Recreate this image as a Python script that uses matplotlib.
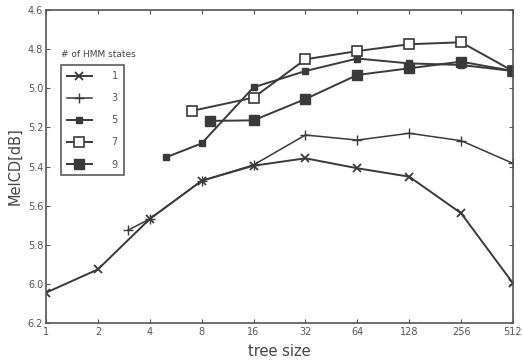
import matplotlib
matplotlib.use("Agg")
import matplotlib.pyplot as plt
from matplotlib.ticker import FixedLocator, FixedFormatter

x1 = [1, 2, 4, 8, 16, 32, 64, 128, 256, 512]
y1 = [6.045, 5.926, 5.668, 5.473, 5.396, 5.358, 5.409, 5.452, 5.639, 5.997]
x3 = [3, 4, 8, 16, 32, 64, 128, 256, 512]
y3 = [5.725, 5.668, 5.473, 5.392, 5.239, 5.265, 5.230, 5.268, 5.384]
x5 = [5, 8, 16, 32, 64, 128, 256, 512]
y5 = [5.352, 5.282, 4.995, 4.912, 4.848, 4.873, 4.881, 4.912]
x7 = [7, 16, 32, 64, 128, 256, 512]
y7 = [5.116, 5.048, 4.852, 4.810, 4.775, 4.765, 4.912]
x9 = [9, 16, 32, 64, 128, 256, 512]
y9 = [5.167, 5.164, 5.055, 4.932, 4.898, 4.864, 4.912]

xticks = [1, 2, 4, 8, 16, 32, 64, 128, 256, 512]
xticklabels = ["1", "2", "4", "8", "16", "32", "64", "128", "256", "512"]
yticks = [4.6, 4.8, 5.0, 5.2, 5.4, 5.6, 5.8, 6.0, 6.2]
yticklabels = ["4.6", "4.8", "5.0", "5.2", "5.4", "5.6", "5.8", "6.0", "6.2"]
labels = ["1", "3", "5", "7", "9"]

lc = "#3a3a3a"
gc = "#555555"

fig = plt.figure(figsize=(5.23, 3.63), dpi=100)
ax = fig.add_axes([46/523, 1-323/363, 467/523, 313/363])

ax.plot(x1, y1, color=lc, lw=1.4, marker='x', ms=6, mew=1.3, label=labels[0])
ax.plot(x3, y3, color=lc, lw=1.1, marker='+', ms=7, mew=1.0, label=labels[1])
ax.plot(x5, y5, color=lc, lw=1.4, marker='s', ms=4.5, mfc=lc, mec=lc, label=labels[2])
ax.plot(x7, y7, color=lc, lw=1.4, marker='s', ms=6.5, mfc='white', mec=lc, mew=1.2, label=labels[3])
ax.plot(x9, y9, color=lc, lw=1.4, marker='s', ms=7, mfc=lc, mec=lc, label=labels[4])

ax.set_xscale('log', base=2)
ax.set_xlim(1, 512)
ax.set_ylim(6.2, 4.6)
ax.xaxis.set_major_locator(FixedLocator(xticks))
ax.xaxis.set_major_formatter(FixedFormatter(xticklabels))
ax.xaxis.set_minor_locator(FixedLocator([]))
ax.yaxis.set_major_locator(FixedLocator(yticks))
ax.yaxis.set_major_formatter(FixedFormatter(yticklabels))
ax.tick_params(direction='in', top=True, right=True, length=3, width=0.8,
               colors=gc, labelsize=7, labelcolor='#555555')
ax.tick_params(axis='x', pad=3)
ax.tick_params(axis='y', pad=2)
for s in ax.spines.values():
    s.set_color(gc)
    s.set_linewidth(1.2)

ax.set_xlabel("tree size", fontsize=10.5, color='#444444', labelpad=5)
ax.set_ylabel("MelCD[dB]", fontsize=10.5, color='#444444', labelpad=4)

leg = ax.legend(loc='upper left', bbox_to_anchor=(0.032, 0.824), fontsize=7,
                frameon=True, fancybox=False, edgecolor='#333333',
                handlelength=2.6, handletextpad=2.0, labelspacing=1.25,
                borderpad=0.6, borderaxespad=0)
leg.get_frame().set_linewidth(1.2)
for t in leg.get_texts():
    t.set_color('#555555')
ax.text(0.032, 0.845, "# of HMM states", transform=ax.transAxes, fontsize=6.5,
        color='#444444', ha='left', va='bottom')

fig.savefig("out.png", dpi=100)
